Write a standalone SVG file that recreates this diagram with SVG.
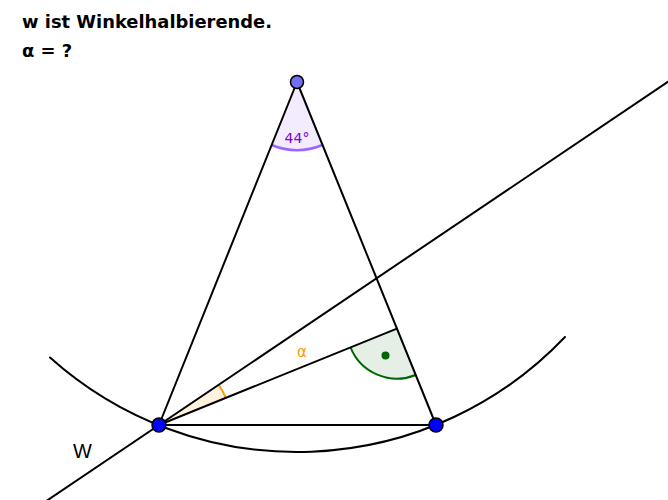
<svg xmlns="http://www.w3.org/2000/svg" width="668" height="500" viewBox="0 0 668 500">
<style>
.ln{stroke:#000;stroke-width:2;fill:none;stroke-linecap:round}
.pt{stroke:#000;stroke-width:1.5}
.title{font-family:"DejaVu Sans",sans-serif;font-weight:bold;font-size:17.9px;fill:#000}
</style>
<rect width="668" height="500" fill="#fff"/>
<g id="title">
<text class="title" x="22" y="28">w ist Winkelhalbierende.</text>
<text class="title" x="22" y="57" font-size="19">α = ?</text>
</g>
<g id="angles">
<path d="M297,82 L271.5,145.0 A68,68 0 0 0 322.5,145.0 Z" fill="#9966ff" fill-opacity="0.12" stroke="none"/>
<path d="M271.5,145.0 A68,68 0 0 0 322.5,145.0" fill="none" stroke="#9966ff" stroke-width="2.5"/>
<path d="M159,425 L218.7,384.7 A72,72 0 0 1 225.8,398.0 Z" fill="#ff9900" fill-opacity="0.12" stroke="none"/>
<path d="M218.7,384.7 A72,72 0 0 1 225.8,398.0" fill="none" stroke="#ff9900" stroke-width="2"/>
<path d="M396.9,328.6 L350.5,347.4 A50,50 0 0 0 415.6,375.0 Z" fill="#006600" fill-opacity="0.1" stroke="none"/>
<path d="M350.5,347.4 A50,50 0 0 0 415.6,375.0" fill="none" stroke="#006600" stroke-width="2"/>
<circle cx="385.5" cy="355.5" r="4" fill="#006600"/>
</g>
<g id="connectors">
<path class="ln" d="M50,357.5 A370,370 0 0 0 565,337"/>
<line class="ln" x1="-10" y1="539" x2="680" y2="73.6"/>
<line class="ln" x1="159" y1="425" x2="297" y2="82"/>
<line class="ln" x1="436" y1="425" x2="297" y2="82"/>
<line class="ln" x1="159" y1="425" x2="436" y2="425"/>
<line class="ln" x1="159" y1="425" x2="396.9" y2="328.6"/>
</g>
<g id="labels">
<text x="297" y="143" text-anchor="middle" font-family="DejaVu Sans, sans-serif" font-size="14" fill="#7f00d4">44°</text>
<text x="302" y="357" text-anchor="middle" font-family="DejaVu Sans, sans-serif" font-size="15" fill="#ff9900">α</text>
<text x="73" y="458" font-family="Liberation Sans, sans-serif" font-size="20" fill="#000">W</text>
</g>
<g id="C"><circle class="pt" cx="297" cy="82" r="6.5" fill="#7070f0"/></g>
<g id="A"><circle class="pt" cx="159" cy="425" r="7" fill="#0000ff"/></g>
<g id="B"><circle class="pt" cx="436" cy="425" r="7" fill="#0000ff"/></g>
</svg>
